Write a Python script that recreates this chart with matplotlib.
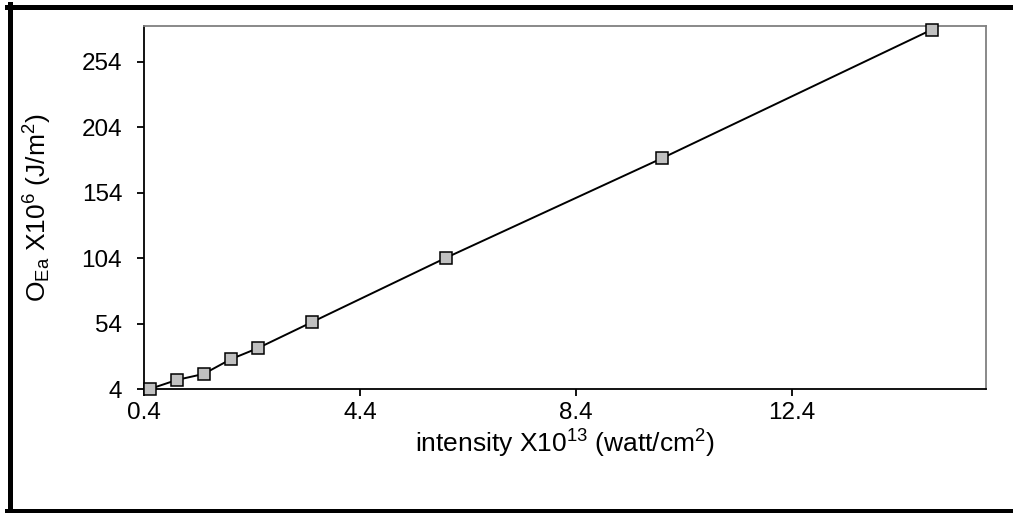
import matplotlib.pyplot as plt
from matplotlib.lines import Line2D

plt.rcParams['font.family'] = ['Liberation Sans', 'DejaVu Sans']
plt.rcParams['mathtext.fontset'] = 'custom'
plt.rcParams['mathtext.rm'] = 'Liberation Sans'
plt.rcParams['mathtext.it'] = 'Liberation Sans'

# intensity x10^13 (watt/cm^2) vs O_Ea x10^6 (J/m^2)
intensity = [0.5, 1.0, 1.5, 2.0, 2.5, 3.5, 6.0, 10.0, 15.0]
energy = [4.0, 10.9, 15.5, 26.7, 35.1, 54.9, 104.3, 180.2, 278.3]

x_ticks = [0.4, 4.4, 8.4, 12.4]
y_ticks = [4, 54, 104, 154, 204, 254]

fig = plt.figure(figsize=(10.13, 5.13), dpi=100)
ax = fig.add_axes([0.1425, 0.2417, 0.8305, 0.7073])

ax.plot(intensity, energy, '-', color='black', lw=1.4,
        marker='s', markersize=8.5, markerfacecolor='#c0c0c0',
        markeredgecolor='black', markeredgewidth=1.1, clip_on=False, zorder=3)

ax.set_xlim(0.4, 16)
ax.set_ylim(4, 281)
ax.set_xticks(x_ticks)
ax.set_xticklabels([str(v) for v in x_ticks])
ax.set_yticks(y_ticks)
ax.set_yticklabels([str(v) for v in y_ticks])

for s in ['top', 'right']:
    ax.spines[s].set_color('#808080')
    ax.spines[s].set_linewidth(1.3)
for s in ['left', 'bottom']:
    ax.spines[s].set_color('black')
    ax.spines[s].set_linewidth(1.3)

ax.tick_params(axis='both', direction='out', length=5, width=1.3,
               labelsize=17.5, colors='black')
ax.tick_params(axis='y', pad=11)
ax.tick_params(axis='x', pad=4)

ax.set_xlabel(r'intensity X10$^{13}$ (watt/cm$^{2}$)', fontsize=19, labelpad=3)
ax.set_ylabel(r'O$_{Ea}$ X10$^{6}$ (J/m$^{2}$)', fontsize=19, labelpad=20)

# thick outer frame (left, top, bottom visible)
W, H = 1013, 513
fig.add_artist(Line2D([9.8 / W, 9.8 / W], [0, 1 - 4 / H], transform=fig.transFigure,
                      color='black', lw=3.6))
fig.add_artist(Line2D([7.3 / W, 1], [1 - 6.5 / H, 1 - 6.5 / H], transform=fig.transFigure,
                      color='black', lw=3.6))
fig.add_artist(Line2D([7.3 / W, 1], [2 / H, 2 / H], transform=fig.transFigure,
                      color='black', lw=3.6))

fig.savefig('out.png', dpi=100)
